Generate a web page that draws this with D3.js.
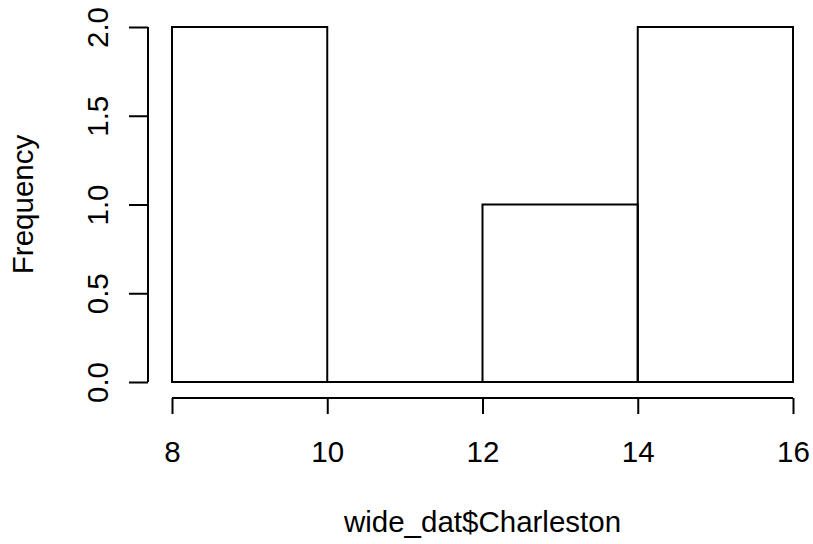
<!DOCTYPE html>
<html>
<head>
<meta charset="utf-8">
<script src="https://cdn.jsdelivr.net/npm/d3@7"></script>
<style>
  body { margin: 0; background: #fff; }
  text { font-family: "Liberation Sans", Arial, sans-serif; font-size: 29.5px; fill: #000; }
</style>
</head>
<body>
<script>
// histogram bins of wide_dat$Charleston
var binStart = [8, 10, 12, 14]
var binEnd = [10, 12, 14, 16]
var counts = [2, 0, 1, 2]
var xTicks = [8, 10, 12, 14, 16]
var yTicks = [0, 0.5, 1, 1.5, 2]

var w = 813
  , h = 544
  , fs = '29.5px'

var x = d3.scaleLinear().domain([8, 16]).range([172, 793])
var y = d3.scaleLinear().domain([0, 2]).range([382, 27])

var svg = d3.select('body').append('svg').attr('width', w).attr('height', h)

var bins = counts.map(function (c, i) {
  return { x0: binStart[i], x1: binEnd[i], n: c }
})

// paths rather than rects so an empty bin still draws its base line
svg.selectAll('path.bar').data(bins)
  .enter().append('path')
  .attr('class', 'bar')
  .attr('d', function (d) {
    return 'M' + x(d.x0) + ',' + y(0) + 'H' + x(d.x1) + 'V' + y(d.n) +
           'H' + x(d.x0) + 'Z'
  })
  .attr('fill', 'none')
  .attr('stroke', '#000')
  .attr('stroke-width', 2)

// x axis
var xAxis = d3.axisBottom(x).tickValues(xTicks).tickSize(16).tickPadding(27)
  .tickFormat(d3.format('d'))
var gx = svg.append('g').attr('transform', 'translate(0,398)').call(xAxis)
gx.select('.domain').attr('d', 'M' + x(8) + ',0H' + x(16)).attr('stroke-width', 2)
gx.selectAll('.tick line').attr('stroke-width', 2)
gx.selectAll('text').style('font-size', fs)

// y axis
var yAxis = d3.axisLeft(y).tickValues(yTicks).tickSize(19).tickPadding(10)
  .tickFormat(d3.format('.1f'))
var gy = svg.append('g').attr('transform', 'translate(148,0)').call(yAxis)
gy.select('.domain').attr('d', 'M0,' + y(0) + 'V' + y(2)).attr('stroke-width', 2)
gy.selectAll('.tick line').attr('stroke-width', 2)
gy.selectAll('.tick text')
  .attr('x', null).attr('dy', null).attr('y', 0)
  .attr('text-anchor', 'middle')
  .attr('transform', 'translate(-40,0) rotate(-90)')
  .style('font-size', fs)

svg.append('text')
  .attr('transform', 'translate(33,' + ((y(0) + y(2)) / 2) + ') rotate(-90)')
  .attr('text-anchor', 'middle')
  .text('Frequency')

svg.append('text')
  .attr('x', (x(8) + x(16)) / 2)
  .attr('y', 532)
  .attr('text-anchor', 'middle')
  .text('wide_dat$Charleston')
</script>
</body>
</html>
